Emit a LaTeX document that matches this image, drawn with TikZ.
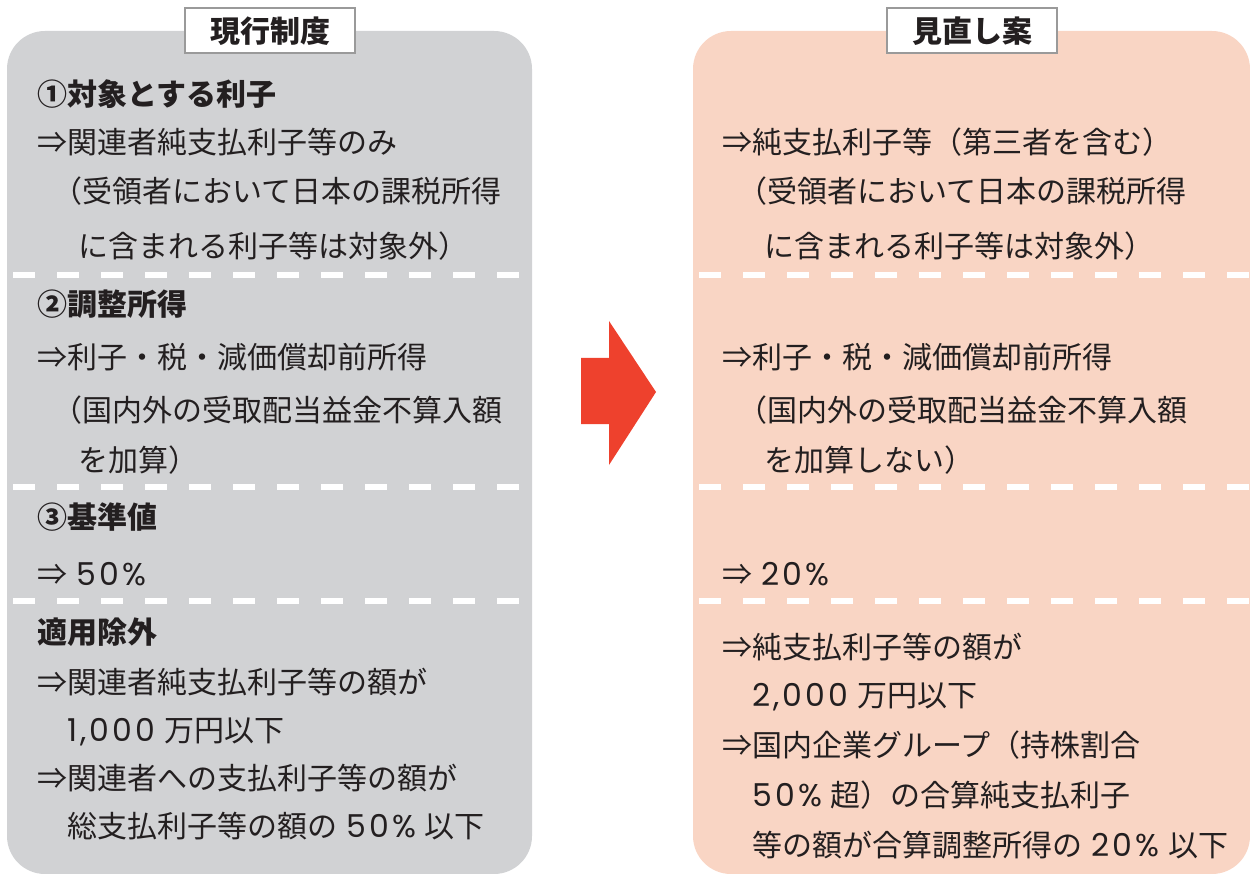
\documentclass[tikz,border=0pt]{standalone}
\usepackage{fontspec}
\setmainfont{Noto Sans CJK JP}
\newfontfamily\numfont[Scale=1.05,LetterSpace=10]{Poppins}
\newcommand{\nm}[1]{{\numfont #1}}
\newcommand{\gp}{\hspace{9pt}}
\usetikzlibrary{calc}
\definecolor{boxgray}{HTML}{D1D2D4}
\definecolor{boxpeach}{HTML}{F9D5C4}
\definecolor{arrowred}{HTML}{EE412D}
\definecolor{titleborder}{HTML}{9A9A9A}
\definecolor{txt}{HTML}{231F20}
\tikzset{
  line/.style={anchor=base west, inner sep=0pt, text=txt, font=\fontsize{30}{34}\selectfont},
  head/.style={line, font=\fontsize{30}{34}\selectfont\bfseries},
  titlebox/.style={draw=titleborder, line width=2pt, fill=white, minimum width=170pt, minimum height=45pt, inner sep=0pt, text=txt, font=\fontsize{30}{34}\selectfont\bfseries},
  sepline/.style={white, line width=6pt, dash pattern=on 22pt off 22pt, dash phase=-6pt},
}
\begin{document}
\begin{tikzpicture}[x=1pt,y=-1pt]
\useasboundingbox (0,0) rectangle (1250,874);
% panels
\path[fill=boxgray, rounded corners=38pt] (7,31) rectangle (532,874);
\path[fill=boxpeach, rounded corners=38pt] (693,31) rectangle (1250,874);
% separators
\begin{scope}
\clip (7,0) rectangle (532,874);
\foreach \yy in {275,487,601} \draw[sepline] (7,\yy) -- (532,\yy);
\end{scope}
\begin{scope}
\clip (693,0) rectangle (1250,874);
\foreach \yy in {275,487,601} \draw[sepline] (693,\yy) -- (1250,\yy);
\end{scope}
% titles
\node[titlebox] (t1) at (270,31) {現行制度};
\node[titlebox] (t2) at (972,31) {見直し案};
% arrow
\fill[arrowred] (581,358) -- (609,358) -- (609,321) -- (656,392) -- (609,465) -- (609,424) -- (581,424) -- cycle;
% left text
\node[head] (l1) at (37,106) {①対象とする利子};
\node[line] (l2) at (37,154) {⇒関連者純支払利子等のみ};
\node[line] (l3) at (52,203) {（受領者において日本の課税所得};
\node[line] (l4) at (78,258) {に含まれる利子等は対象外）};
\node[head] (l5) at (37,316) {②調整所得};
\node[line] (l6) at (37,369) {⇒利子・税・減価償却前所得};
\node[line] (l7) at (52,421) {（国内外の受取配当益金不算入額};
\node[line] (l8) at (78,471) {を加算）};
\node[head] (l9) at (37,528) {③基準値};
\node[line] (l10) at (37,585) {⇒\gp\nm{50\%}};
\node[head] (l11) at (37,643) {適用除外};
\node[line] (l12) at (37,693) {⇒関連者純支払利子等の額が};
\node[line] (l13) at (67,741) {\nm{1,000}\gp 万円以下};
\node[line] (l14) at (37,789) {⇒関連者への支払利子等の額が};
\node[line] (l15) at (67,837) {総支払利子等の額の\gp\nm{50\%}\gp 以下};
% right text
\node[line] (r1) at (722,154) {⇒純支払利子等（第三者を含む）};
\node[line] (r2) at (737,203) {（受領者において日本の課税所得};
\node[line] (r3) at (764,258) {に含まれる利子等は対象外）};
\node[line] (r4) at (722,369) {⇒利子・税・減価償却前所得};
\node[line] (r5) at (737,421) {（国内外の受取配当益金不算入額};
\node[line] (r6) at (764,471) {を加算しない）};
\node[line] (r7) at (722,585) {⇒\gp\nm{20\%}};
\node[line] (r8) at (722,658) {⇒純支払利子等の額が};
\node[line] (r9) at (752,706) {\nm{2,000}\gp 万円以下};
\node[line] (r10) at (722,756) {⇒国内企業グループ（持株割合};
\node[line] (r11) at (752,806) {\nm{50\%}\gp 超）の合算純支払利子};
\node[line] (r12) at (752,856) {等の額が合算調整所得の\gp\nm{20\%}\gp 以下};
\end{tikzpicture}
\end{document}
